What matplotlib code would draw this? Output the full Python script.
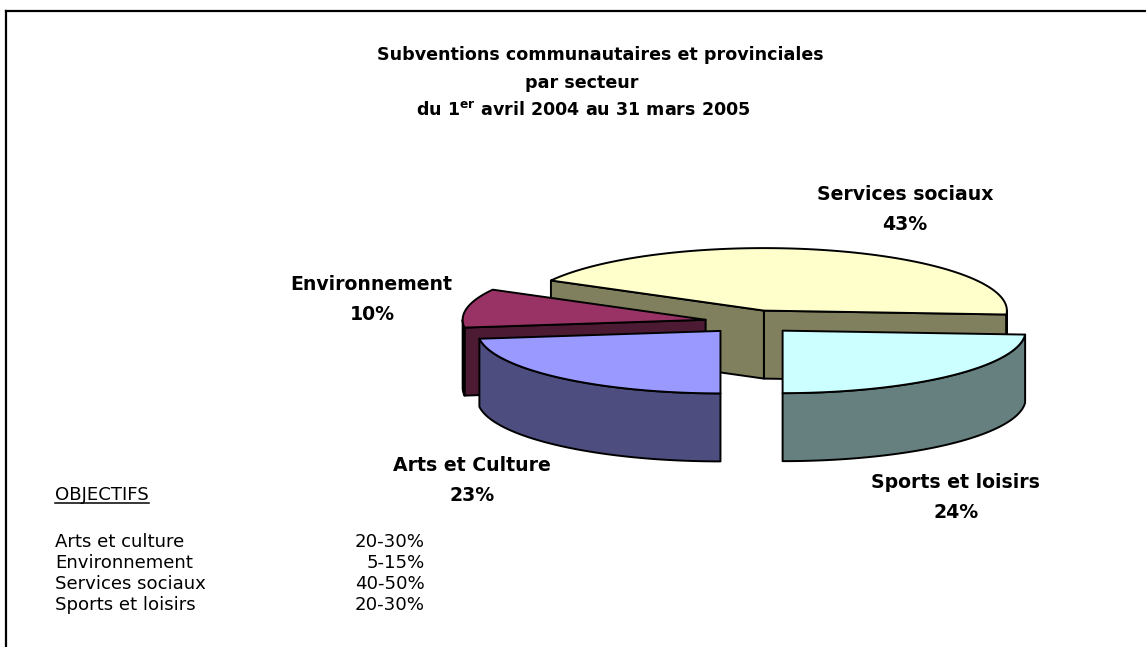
import numpy as np
import matplotlib
matplotlib.use("Agg")
import matplotlib.pyplot as plt
from matplotlib.patches import Polygon

# ---- data ----
categories = ["Arts et Culture", "Environnement", "Services sociaux", "Sports et loisirs"]
shares = [23, 10, 43, 24]
top_colors = ["#9999FF", "#993366", "#FFFFCC", "#CCFFFF"]
side_colors = ["#4D4D80", "#4D1A33", "#80805F", "#668080"]
title_lines = ["Subventions communautaires et provinciales", "par secteur"]
obj_names = ["Arts et culture", "Environnement", "Services sociaux", "Sports et loisirs"]
obj_ranges = ["20-30%", "5-15%", "40-50%", "20-30%"]

plt.rcParams["font.family"] = ["DejaVu Sans"]
plt.rcParams["mathtext.fontset"] = "dejavusans"

W, H = 1146, 647
fig = plt.figure(figsize=(W / 100, H / 100), dpi=100)
ax = fig.add_axes([0, 0, 1, 1])
ax.set_xlim(0, W)
ax.set_ylim(H, 0)
ax.axis("off")

# frame (clipped on right and bottom)
ax.plot([6, 6], [H, 11], color="black", lw=1.6, solid_capstyle="projecting")
ax.plot([6, W], [11, 11], color="black", lw=1.6, solid_capstyle="projecting")

# ---- 3D pie geometry ----
cx, cy = 751, 322
rx, ry = 243, 62.5
depth = 68
explode = 0.19
start = -90.0
total = float(sum(shares))


def pt(t, ox, oy, z=0.0):
    r = np.radians(t)
    return (cx + ox + rx * np.cos(r), cy + oy - ry * np.sin(r) + z)


def arc(t0, t1, ox, oy, z=0.0):
    n = max(2, int(abs(t1 - t0) / 1.5) + 2)
    ts = np.linspace(t0, t1, n)
    r = np.radians(ts)
    return np.column_stack([cx + ox + rx * np.cos(r), cy + oy - ry * np.sin(r) + z])


slices = []
a = start
for i, v in enumerate(shares):
    a_end = a - v / total * 360.0
    lo, hi = a_end, a
    mid = (lo + hi) / 2.0
    ox = explode * rx * np.cos(np.radians(mid))
    oy = -explode * ry * np.sin(np.radians(mid))
    slices.append(dict(i=i, lo=lo, hi=hi, mid=mid, ox=ox, oy=oy))
    a = a_end

# back-to-front
slices.sort(key=lambda s: -np.sin(np.radians(s["mid"])))

kw = dict(ec="black", lw=1.4, joinstyle="round")
for s in slices:
    i, lo, hi, ox, oy = s["i"], s["lo"], s["hi"], s["ox"], s["oy"]
    vx, vy = cx + ox, cy + oy
    # cut faces
    for t, vis in ((lo, np.cos(np.radians(lo)) > 1e-6), (hi, np.cos(np.radians(hi)) < -1e-6)):
        if vis:
            p_top = pt(t, ox, oy)
            p_bot = pt(t, ox, oy, depth)
            quad = [(vx, vy), p_top, p_bot, (vx, vy + depth)]
            ax.add_patch(Polygon(quad, closed=True, fc=side_colors[i], **kw))
    # outer wall (front-facing part: sin < 0)
    for k in (-2, -1, 0, 1):
        f0, f1 = -180 + 360 * k, 360 * k
        t0, t1 = max(lo, f0), min(hi, f1)
        if t1 - t0 > 0.05:
            top = arc(t0, t1, ox, oy)
            bot = arc(t1, t0, ox, oy, depth)
            ax.add_patch(Polygon(np.vstack([top, bot]), closed=True,
                                 fc=side_colors[i], **kw))
    # top face
    poly = np.vstack([[(vx, vy)], arc(lo, hi, ox, oy)])
    ax.add_patch(Polygon(poly, closed=True, fc=top_colors[i], **kw))

# ---- labels (baseline positions) ----
lab_pos = {
    "Arts et Culture": ((472, 471), (472, 501)),
    "Environnement": ((371, 290), (372, 320)),
    "Services sociaux": ((905, 200), (905, 230)),
    "Sports et loisirs": ((955, 488), (956, 518)),
}
for name, v in zip(categories, shares):
    (x1, y1), (x2, y2) = lab_pos[name]
    ax.text(x1, y1, name, ha="center", va="baseline", fontsize=13.6, fontweight="bold")
    ax.text(x2, y2, f"{v}%", ha="center", va="baseline", fontsize=13.6, fontweight="bold")

# ---- title ----
ax.text(600, 55, title_lines[0], ha="center", va="center", fontsize=12.6, fontweight="bold")
ax.text(582, 83, title_lines[1], ha="center", va="center", fontsize=12.6, fontweight="bold")
ax.text(583, 111, r"du 1$^{\mathbf{er}}$ avril 2004 au 31 mars 2005", ha="center",
        va="center", fontsize=12.6, fontweight="bold")

# ---- objectives ----
t = ax.text(55, 495, "OBJECTIFS", ha="left", va="center", fontsize=13.1)
fig.canvas.draw()
bb = t.get_window_extent().transformed(ax.transData.inverted())
ax.plot([bb.x0, bb.x1], [503, 503], color="black", lw=1.1)
ys = [542, 563, 584, 605]
for y, nm, rg in zip(ys, obj_names, obj_ranges):
    ax.text(55, y, nm, ha="left", va="center", fontsize=13.1)
    ax.text(425, y, rg, ha="right", va="center", fontsize=13.1)

fig.savefig("out.png", dpi=100)
